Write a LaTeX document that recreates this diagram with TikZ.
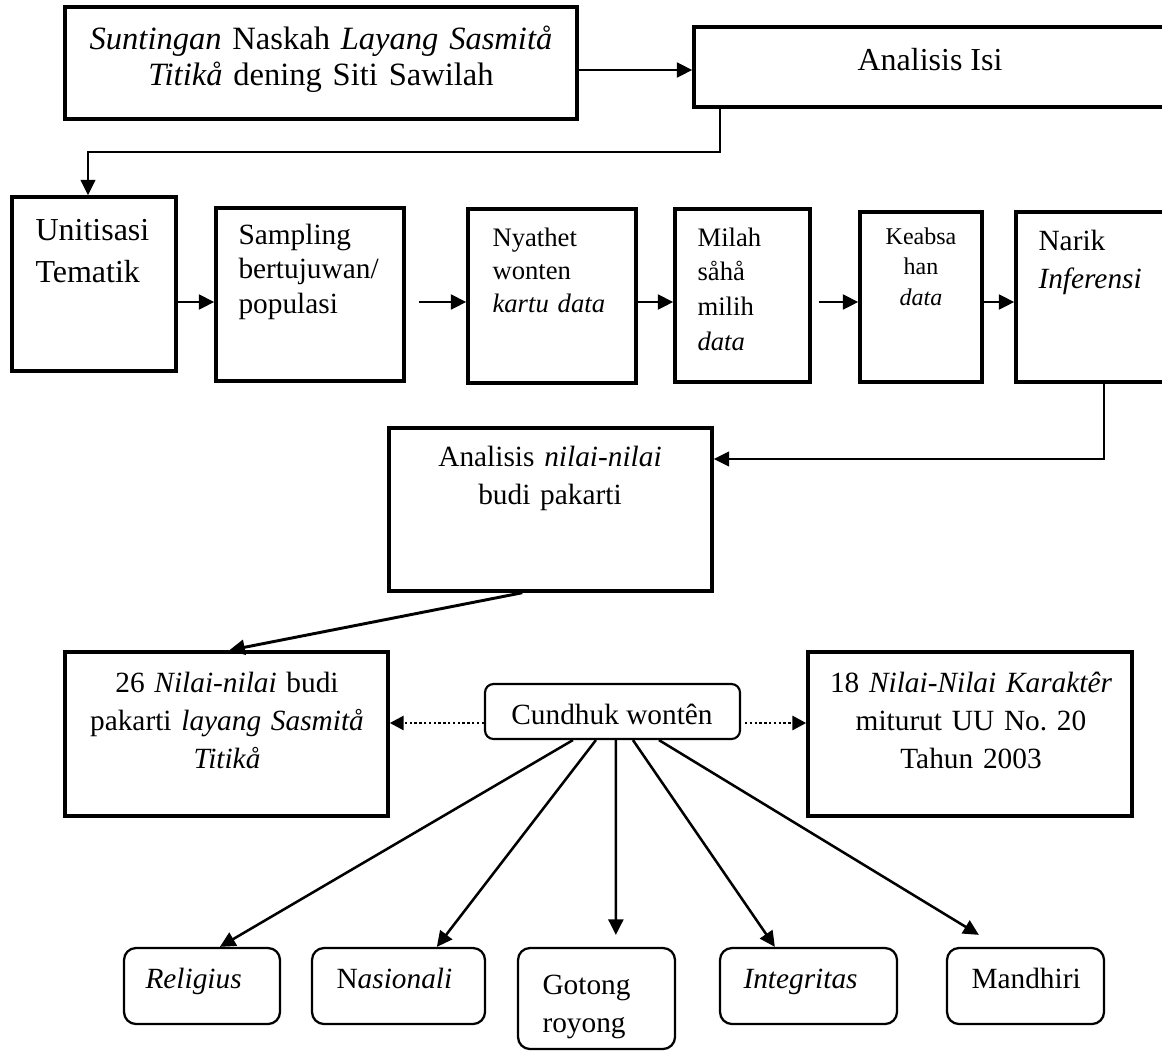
\documentclass[tikz,border=0pt]{standalone}
\usepackage{fontspec}
\setmainfont{Liberation Serif}
\usetikzlibrary{arrows.meta,calc}
\def\pxu{0.375pt}
\newcommand{\fs}[2]{\fontsize{#1}{#2}\selectfont}
\newcommand{\mkbox}[6]{\node[#6, minimum width={(#4-#2)*\pxu}, minimum height={(#5-#3)*\pxu}] (#1) at ({(#2+#4)/2},{(#3+#5)/2}) {};}
\tikzset{
  sbox/.style={draw, line width=1.3pt, inner sep=0pt},
  rbox/.style={draw, line width=0.85pt, rounded corners=4.5pt, inner sep=0pt},
  cbox/.style={draw, line width=0.8pt, rounded corners=3.2pt, inner sep=0pt},
  conn/.style={line width=0.8pt, -{Triangle[length=5.8pt,width=5.6pt]}},
  thinconn/.style={line width=0.6pt, -{Triangle[length=5.8pt,width=5.6pt]}},
  dotconn/.style={line width=1.1pt, dash pattern=on 0.9pt off 0.9pt, -{Triangle[length=5.2pt,width=5.2pt]}},
  txt/.style={inner sep=0pt}
}
\begin{document}
\begin{tikzpicture}[x=0.375pt,y=-0.375pt]
\useasboundingbox (0,0) rectangle (1162,1053);
% boxes
\mkbox{sunt}{65}{7}{577}{119}{sbox}
\mkbox{aisi}{694}{27}{1178}{107}{sbox}
\mkbox{unit}{12}{197}{176}{371}{sbox}
\mkbox{samp}{216}{208}{404}{381}{sbox}
\mkbox{nyat}{468}{209}{636}{383}{sbox}
\mkbox{mila}{675}{209}{810}{382}{sbox}
\mkbox{keab}{860}{212}{982}{382}{sbox}
\mkbox{nari}{1016}{212}{1178}{382}{sbox}
\mkbox{anil}{389}{428}{712}{591}{sbox}
\mkbox{nA}{65}{652}{388}{816}{sbox}
\mkbox{nB}{808}{652}{1132}{816}{sbox}
\mkbox{cund}{485}{684}{740}{739}{cbox}
\mkbox{reli}{124}{948}{280}{1024}{rbox}
\mkbox{nasi}{312}{948}{485}{1024}{rbox}
\mkbox{goto}{518}{948}{675}{1049}{rbox}
\mkbox{inte}{720}{948}{897}{1024}{rbox}
\mkbox{mand}{947}{948}{1104}{1024}{rbox}
% texts
\node[txt, font={\fs{12.2}{13.6}}, text width={490*\pxu}, align=center, anchor=base] (tsunt) at (321,49)
  {\textit{Suntingan} Naskah \textit{Layang Sasmitå}\\\textit{Titikå} dening Siti Sawilah};
\node[txt, font={\fs{12}{13.5}}, anchor=base] (taisi) at (930,70) {Analisis Isi};
\node[txt, font={\fs{12}{15.75}}, text width={140*\pxu}, align=left, anchor=base west] (tunit) at (35,240)
  {Unitisasi\\Tematik};
\node[txt, font={\fs{11}{13.1}}, text width={160*\pxu}, align=left, anchor=base west] (tsamp) at (238,244)
  {Sampling\\bertujuwan/\\populasi};
\node[txt, font={\fs{10}{12.4}}, text width={135*\pxu}, align=left, anchor=base west] (tnyat) at (492,246)
  {Nyathet\\wonten\\\textit{kartu data}};
\node[txt, font={\fs{10}{13.1}}, text width={100*\pxu}, align=left, anchor=base west] (tmila) at (697,246)
  {Milah\\såhå\\milih\\\textit{data}};
\node[txt, font={\fs{9}{11.6}}, text width={110*\pxu}, align=center, anchor=base] (tkeab) at (921,244)
  {Keabsa\\han\\\textit{data}};
\node[txt, font={\fs{11}{14.25}}, text width={120*\pxu}, align=left, anchor=base west] (tnari) at (1038,250)
  {Narik\\\textit{Inferensi}};
\node[txt, font={\fs{11}{14.6}}, text width={300*\pxu}, align=center, anchor=base] (tanil) at (550,466)
  {Analisis \textit{nilai-nilai}\\budi pakarti};
\node[txt, font={\fs{11}{14.25}}, text width={300*\pxu}, align=center, anchor=base] (tnA) at (227,692)
  {26 \textit{Nilai-nilai} budi\\pakarti \textit{layang Sasmitå}\\\textit{Titikå}};
\node[txt, font={\fs{11}{14.25}}, text width={310*\pxu}, align=center, anchor=base] (tnB) at (971,692)
  {18 \textit{Nilai-Nilai Karaktêr}\\miturut UU No.\ 20\\Tahun 2003};
\node[txt, font={\fs{11}{14.25}}, anchor=base] (tcund) at (612,724) {Cundhuk wontên};
\node[txt, font={\fs{11}{14.25}}, anchor=base west] (treli) at (145,988) {\textit{Religius}};
\node[txt, font={\fs{11}{14.25}}, anchor=base west] (tnasi) at (336,988) {N\textit{asionali}};
\node[txt, font={\fs{11}{14.25}}, text width={120*\pxu}, align=left, anchor=base west] (tgoto) at (542,994)
  {Gotong\\royong};
\node[txt, font={\fs{11}{14.25}}, anchor=base west] (tinte) at (743,988) {\textit{Integritas}};
\node[txt, font={\fs{11}{14.25}}, anchor=base west] (tmand) at (971,988) {Mandhiri};
% connectors
\coordinate (yA) at (0,70);
\draw[conn] (sunt.east |- yA) -- (aisi.west |- yA);
\coordinate (e1) at (720,152);
\coordinate (e2) at (88,152);
\draw[thinconn] (aisi.south -| e1) -- (e1) -- (e2) -- (unit.north -| e2);
\coordinate (yR) at (0,302);
\draw[conn] (unit.east |- yR) -- (samp.west |- yR);
\draw[conn, shorten <=4.9pt] (samp.east |- yR) -- (nyat.west |- yR);
\draw[conn] (nyat.east |- yR) -- (mila.west |- yR);
\draw[conn, shorten <=2.6pt] (mila.east |- yR) -- (keab.west |- yR);
\draw[conn] (keab.east |- yR) -- (nari.west |- yR);
\coordinate (e3) at (1104,459);
\draw[thinconn] (nari.south -| e3) -- (e3) -- (anil.east |- e3);
\draw[conn, line width=1.1pt] ($(anil.south west)+(135,0)$) -- ($(nA.north west)+(166,0)$);
\coordinate (yD) at (0,723);
\draw[dotconn] (cund.west |- yD) -- (nA.east |- yD);
\draw[dotconn, shorten <=1.5pt] (cund.east |- yD) -- (nB.west |- yD);
\draw[conn, line width=0.95pt] ($(cund.south west)+(89,0)$) -- ($(reli.north west)+(97,0)$);
\draw[conn, line width=0.95pt] ($(cund.south west)+(112,0)$) -- ($(nasi.north west)+(126,0)$);
\draw[conn, line width=0.95pt] ($(cund.south west)+(132,0)$) -- ($(goto.north west)+(99,-12)$);
\draw[conn, line width=0.95pt] ($(cund.south west)+(149,0)$) -- ($(inte.north west)+(56,0)$);
\draw[conn, line width=0.95pt] ($(cund.south west)+(175,0)$) -- ($(mand.north west)+(33,-12)$);
\end{tikzpicture}
\end{document}
